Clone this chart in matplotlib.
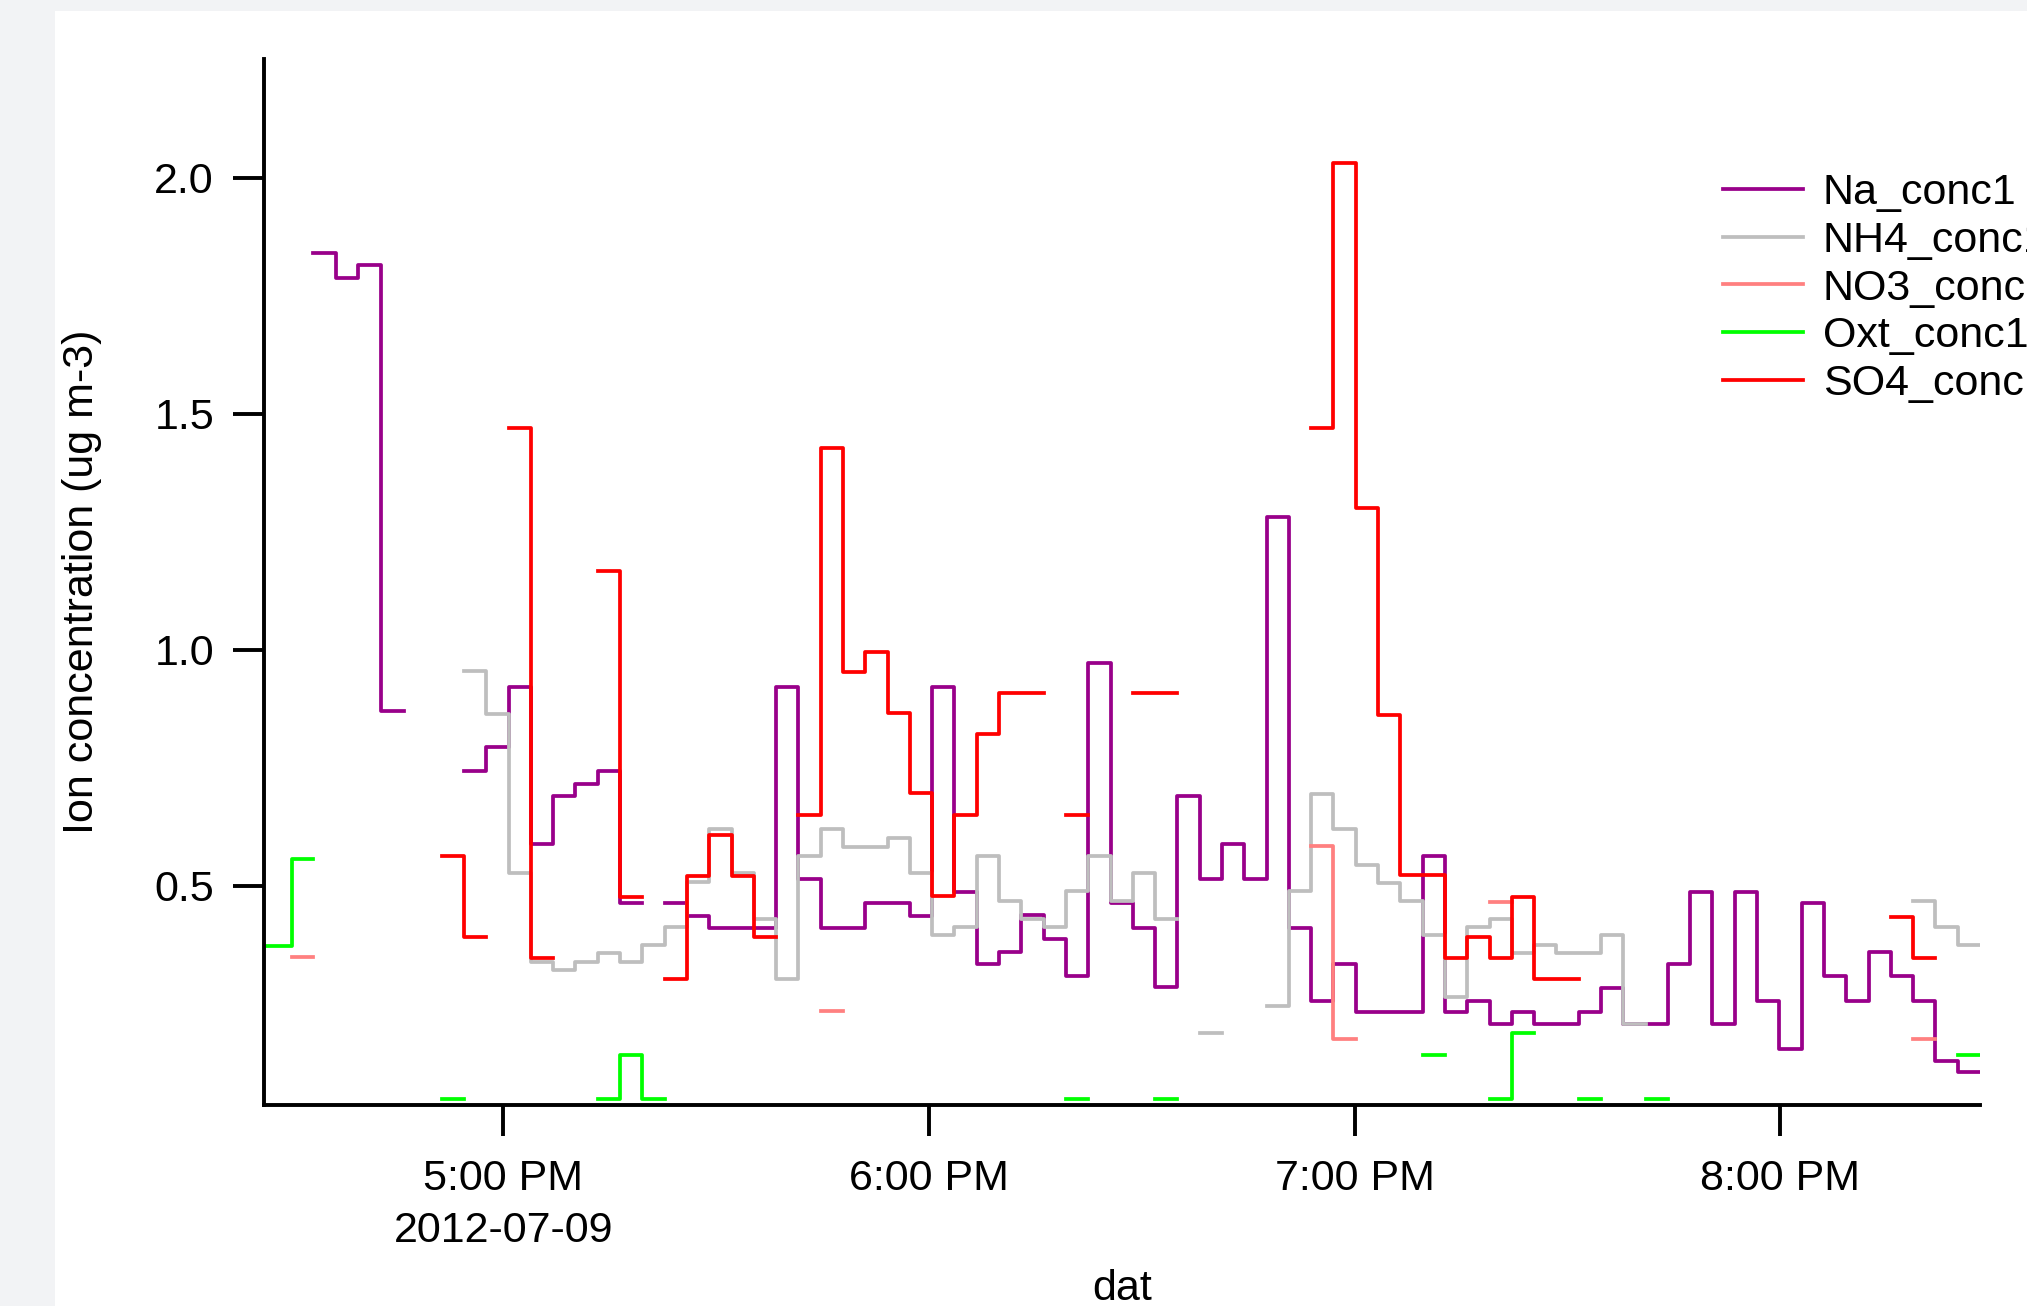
"""Ion concentrations on 2012-07-09, drawn as step traces."""
import numpy as np
import pandas as pd
import matplotlib

matplotlib.use("Agg")
import matplotlib.pyplot as plt
from matplotlib.patches import Rectangle

plt.rcParams["font.family"] = ["Liberation Sans", "DejaVu Sans"]

nan = np.nan

# sample start times (the last one closes the final step)
times = [
    "16:26:15", "16:30:10", "16:33:13", "16:36:22", "16:39:33", "16:42:45", "16:45:59", "16:51:18",
    "16:54:27", "16:57:35", "17:00:44", "17:03:52", "17:07:01", "17:10:10", "17:13:18", "17:16:27",
    "17:19:35", "17:22:44", "17:25:53", "17:29:01", "17:32:10", "17:35:18", "17:38:27", "17:41:36",
    "17:44:44", "17:47:53", "17:51:01", "17:54:10", "17:57:19", "18:00:27", "18:03:36", "18:06:44",
    "18:09:53", "18:13:02", "18:16:10", "18:19:19", "18:22:27", "18:25:36", "18:28:45", "18:31:53",
    "18:35:02", "18:38:10", "18:41:19", "18:44:28", "18:47:36", "18:50:45", "18:53:53", "18:57:02",
    "19:00:11", "19:03:19", "19:06:28", "19:09:36", "19:12:45", "19:15:54", "19:19:02", "19:22:11",
    "19:25:19", "19:28:28", "19:31:37", "19:34:45", "19:37:54", "19:41:02", "19:44:11", "19:47:20",
    "19:50:28", "19:53:37", "19:56:45", "19:59:54", "20:03:03", "20:06:11", "20:09:20", "20:12:28",
    "20:15:37", "20:18:46", "20:21:54", "20:25:03", "20:28:11",
]

na_conc = [
    nan, nan, 1.84, 1.787, 1.814, 0.870, nan, nan, 0.742, 0.794,
    0.921, 0.588, 0.690, 0.716, 0.742, 0.462, nan, 0.462, 0.435, 0.409,
    0.409, 0.409, 0.921, 0.513, 0.409, 0.409, 0.462, 0.462, 0.436, 0.921,
    0.487, 0.334, 0.360, 0.437, 0.386, 0.308, 0.972, 0.462, 0.409, 0.284,
    0.690, 0.513, 0.588, 0.513, 1.28, 0.409, 0.256, 0.334, 0.231, 0.231,
    0.231, 0.563, 0.231, 0.256, 0.206, 0.231, 0.206, 0.206, 0.231, 0.282,
    0.206, 0.206, 0.334, 0.487, 0.206, 0.487, 0.256, 0.153, 0.462, 0.308,
    0.256, 0.360, 0.308, 0.256, 0.129, 0.104,
]

nh4_conc = [
    nan, nan, nan, nan, nan, nan, nan, nan, 0.955, 0.863,
    0.526, 0.339, 0.321, 0.339, 0.356, 0.339, 0.374, 0.413, 0.508, 0.619,
    0.526, 0.430, 0.303, 0.563, 0.619, 0.581, 0.581, 0.600, 0.526, 0.395,
    0.413, 0.563, 0.468, 0.430, 0.413, 0.488, 0.563, 0.468, 0.526, 0.430,
    nan, 0.188, nan, nan, 0.245, 0.488, 0.694, 0.619, 0.543, 0.506,
    0.468, 0.395, 0.263, 0.413, 0.430, 0.356, 0.374, 0.356, 0.356, 0.395,
    0.206, nan, nan, nan, nan, nan, nan, nan, nan, nan,
    nan, nan, nan, 0.468, 0.413, 0.374,
]

no3_conc = [
    nan, 0.349, nan, nan, nan, nan, nan, nan, nan, nan,
    nan, nan, nan, nan, nan, nan, nan, nan, nan, nan,
    nan, nan, nan, nan, 0.234, nan, nan, nan, nan, nan,
    nan, nan, nan, nan, nan, nan, nan, nan, nan, nan,
    nan, nan, nan, nan, nan, nan, 0.584, 0.175, nan, nan,
    nan, nan, nan, nan, 0.466, nan, nan, nan, nan, nan,
    nan, nan, nan, nan, nan, nan, nan, nan, nan, nan,
    nan, nan, nan, 0.175, nan, nan,
]

oxt_conc = [
    0.372, 0.557, nan, nan, nan, nan, nan, 0.047, nan, nan,
    nan, nan, nan, nan, 0.047, 0.140, 0.047, nan, nan, nan,
    nan, nan, nan, nan, nan, nan, nan, nan, nan, nan,
    nan, nan, nan, nan, nan, 0.047, nan, nan, nan, 0.047,
    nan, nan, nan, nan, nan, nan, nan, nan, nan, nan,
    nan, 0.141, nan, nan, 0.047, 0.187, nan, nan, 0.047, nan,
    nan, 0.047, nan, nan, nan, nan, nan, nan, nan, nan,
    nan, nan, nan, nan, nan, 0.141,
]

so4_conc = [
    nan, nan, nan, nan, nan, nan, nan, 0.563, 0.390, nan,
    1.469, 0.347, nan, nan, 1.167, 0.476, nan, 0.303, 0.520, 0.606,
    0.520, 0.390, nan, 0.649, 1.427, 0.953, 0.995, 0.865, 0.695, 0.478,
    0.649, 0.822, 0.908, 0.908, nan, 0.649, nan, nan, 0.908, 0.908,
    nan, nan, nan, nan, nan, nan, 1.469, 2.030, 1.299, 0.862,
    0.522, 0.522, 0.347, 0.390, 0.347, 0.476, 0.303, 0.303, nan, nan,
    nan, nan, nan, nan, nan, nan, nan, nan, nan, nan,
    nan, nan, 0.433, 0.347, nan, nan,
]

tick_times = ["17:00", "18:00", "19:00", "20:00"]
tick_labels = ["5:00 PM\n2012-07-09", "6:00 PM", "7:00 PM", "8:00 PM"]
y_ticks = [0.5, 1.0, 1.5, 2.0]

series = [
    ("Na_conc1", na_conc, "#99008a"),
    ("NH4_conc1", nh4_conc, "#bebebe"),
    ("NO3_conc1", no3_conc, "#ff8080"),
    ("Oxt_conc1", oxt_conc, "#00ff00"),
    ("SO4_conc1", so4_conc, "#ff0000"),
]

t = pd.to_datetime(["2012-07-09 " + s for s in times])

W, H = 2027, 1306
fig = plt.figure(figsize=(W / 100, H / 100), dpi=100, facecolor="#f2f3f5")
# white page behind the graph, leaving a grey strip on the left and top
fig.patches.append(Rectangle((55 / W, 0), 1 - 55 / W, 1 - 11 / H,
                             transform=fig.transFigure, facecolor="white",
                             edgecolor="none", zorder=-10))

ax = fig.add_axes([264 / W, 1 - 1105 / H, (1980 - 264) / W, (1105 - 59.5) / H])
ax.set_facecolor("white")
ax.set_zorder(1)

for label, vals, color in series:
    ax.step(t, list(vals) + [nan], where="post", color=color, lw=2.7, label=label)

ax.set_xlim(t[0], t[-1])
ax.set_ylim(0.035, 2.25)

for side in ("top", "right"):
    ax.spines[side].set_visible(False)
for side in ("left", "bottom"):
    ax.spines[side].set_linewidth(2.8)

ax.set_yticks(y_ticks)
ax.set_yticklabels([f"{v:.1f}" for v in y_ticks])
ax.set_xticks(pd.to_datetime(["2012-07-09 " + s for s in tick_times]))
ax.set_xticklabels(tick_labels)
for lbl in ax.get_xticklabels():
    lbl.set_linespacing(1.38)

ax.tick_params(axis="both", direction="out", length=22, width=2.8, labelsize=31)
ax.tick_params(axis="y", pad=14)
ax.tick_params(axis="x", pad=17)

ax.set_xlabel("dat", fontsize=31)
ax.set_ylabel("Ion concentration (ug m-3)", fontsize=31)
ax.xaxis.set_label_coords(0.5, -0.157)
ax.yaxis.set_label_coords(-0.0945, 0.5)

ax.legend(loc="upper left", bbox_to_anchor=(1723 / W, 1 - 173 / H),
          bbox_transform=fig.transFigure, frameon=False, fontsize=31,
          handlelength=1.86, handletextpad=0.46, labelspacing=0.18,
          borderpad=0, borderaxespad=0)

fig.savefig("out.png", dpi=100, facecolor=fig.get_facecolor())
